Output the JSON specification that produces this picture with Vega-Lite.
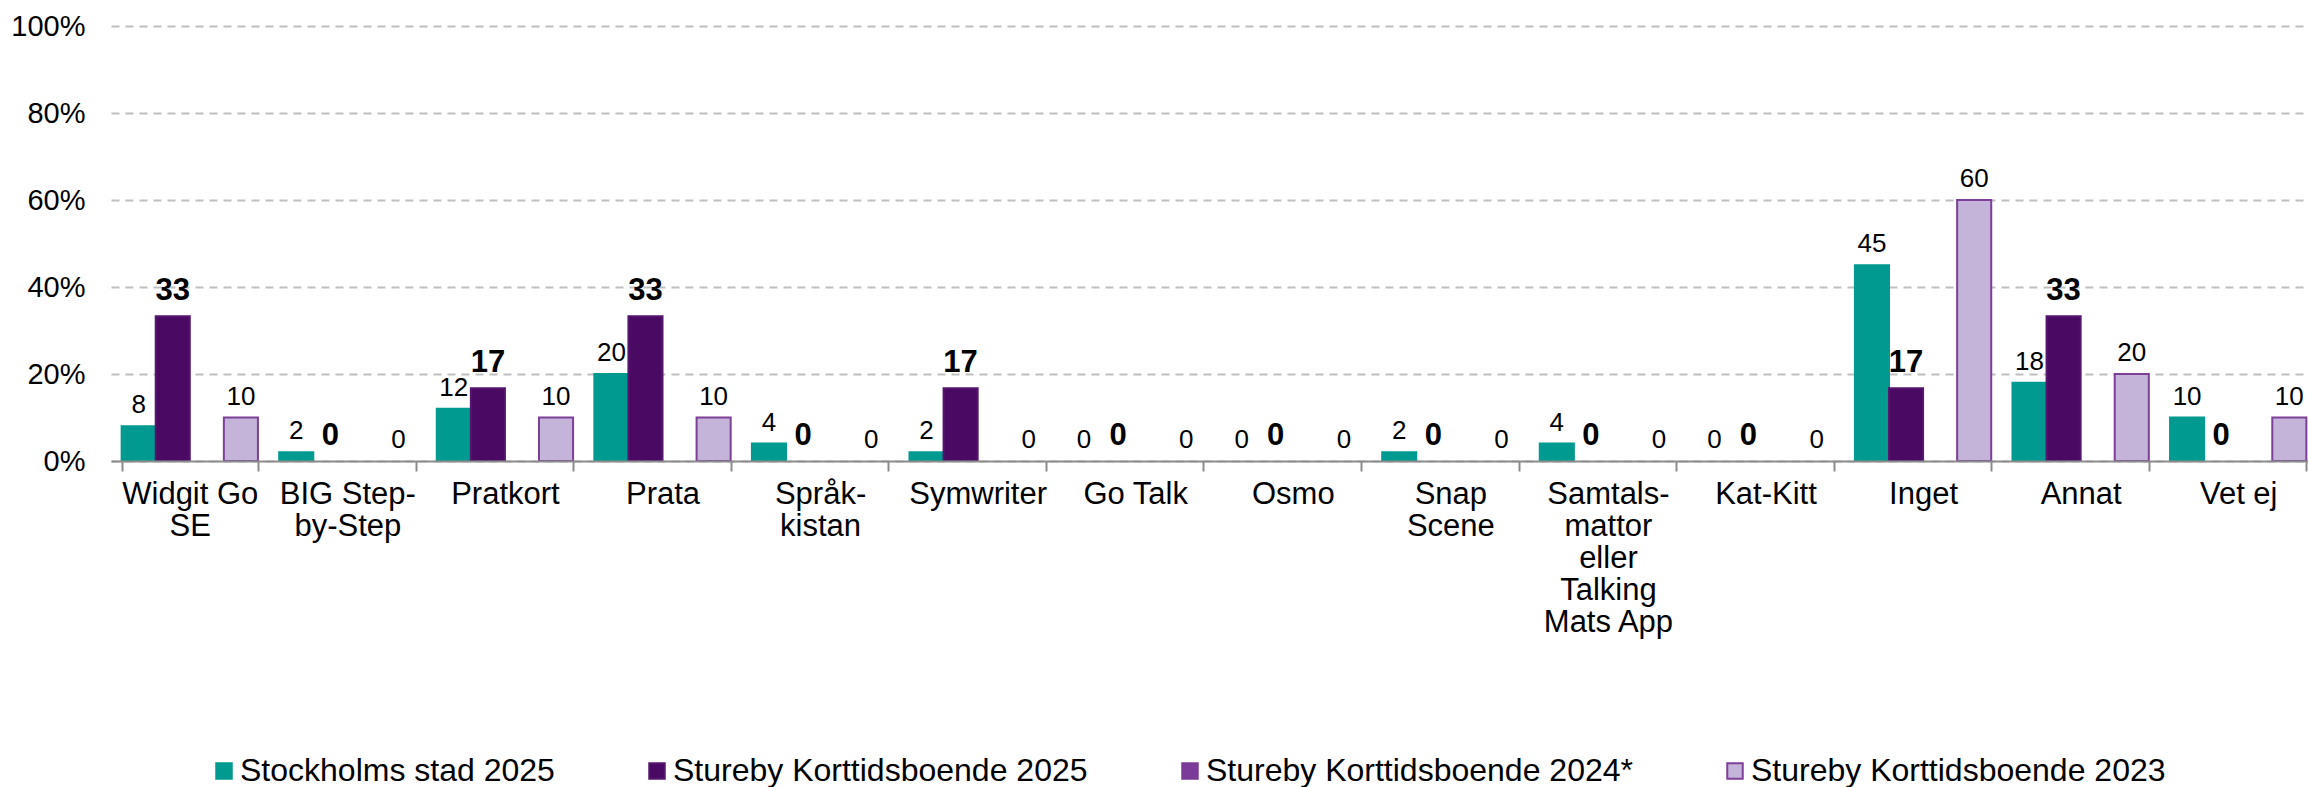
{
  "$schema": "https://vega.github.io/schema/vega-lite/v6.json",
  "autosize": {"type": "none"},
  "width": 2197,
  "height": 435,
  "padding": {"left": 111, "top": 26, "right": 0, "bottom": 326},
  "background": "white",
  "config": {
    "font": "Liberation Sans",
    "view": {"stroke": null}
  },
  "data": {
    "values": [
      {"cat": "Widgit Go|SE", "series": "Stockholms stad 2025", "value": 8},
      {"cat": "BIG Step-|by-Step", "series": "Stockholms stad 2025", "value": 2},
      {"cat": "Pratkort", "series": "Stockholms stad 2025", "value": 12},
      {"cat": "Prata", "series": "Stockholms stad 2025", "value": 20},
      {"cat": "Språk-|kistan", "series": "Stockholms stad 2025", "value": 4},
      {"cat": "Symwriter", "series": "Stockholms stad 2025", "value": 2},
      {"cat": "Go Talk", "series": "Stockholms stad 2025", "value": 0},
      {"cat": "Osmo", "series": "Stockholms stad 2025", "value": 0},
      {"cat": "Snap|Scene", "series": "Stockholms stad 2025", "value": 2},
      {"cat": "Samtals-|mattor|eller|Talking|Mats App", "series": "Stockholms stad 2025", "value": 4},
      {"cat": "Kat-Kitt", "series": "Stockholms stad 2025", "value": 0},
      {"cat": "Inget", "series": "Stockholms stad 2025", "value": 45},
      {"cat": "Annat", "series": "Stockholms stad 2025", "value": 18},
      {"cat": "Vet ej", "series": "Stockholms stad 2025", "value": 10},
      {"cat": "Widgit Go|SE", "series": "Stureby Korttidsboende 2025", "value": 33.3},
      {"cat": "BIG Step-|by-Step", "series": "Stureby Korttidsboende 2025", "value": 0},
      {"cat": "Pratkort", "series": "Stureby Korttidsboende 2025", "value": 16.7},
      {"cat": "Prata", "series": "Stureby Korttidsboende 2025", "value": 33.3},
      {"cat": "Språk-|kistan", "series": "Stureby Korttidsboende 2025", "value": 0},
      {"cat": "Symwriter", "series": "Stureby Korttidsboende 2025", "value": 16.7},
      {"cat": "Go Talk", "series": "Stureby Korttidsboende 2025", "value": 0},
      {"cat": "Osmo", "series": "Stureby Korttidsboende 2025", "value": 0},
      {"cat": "Snap|Scene", "series": "Stureby Korttidsboende 2025", "value": 0},
      {"cat": "Samtals-|mattor|eller|Talking|Mats App", "series": "Stureby Korttidsboende 2025", "value": 0},
      {"cat": "Kat-Kitt", "series": "Stureby Korttidsboende 2025", "value": 0},
      {"cat": "Inget", "series": "Stureby Korttidsboende 2025", "value": 16.7},
      {"cat": "Annat", "series": "Stureby Korttidsboende 2025", "value": 33.3},
      {"cat": "Vet ej", "series": "Stureby Korttidsboende 2025", "value": 0},
      {"cat": "Widgit Go|SE", "series": "Stureby Korttidsboende 2023", "value": 10},
      {"cat": "BIG Step-|by-Step", "series": "Stureby Korttidsboende 2023", "value": 0},
      {"cat": "Pratkort", "series": "Stureby Korttidsboende 2023", "value": 10},
      {"cat": "Prata", "series": "Stureby Korttidsboende 2023", "value": 10},
      {"cat": "Språk-|kistan", "series": "Stureby Korttidsboende 2023", "value": 0},
      {"cat": "Symwriter", "series": "Stureby Korttidsboende 2023", "value": 0},
      {"cat": "Go Talk", "series": "Stureby Korttidsboende 2023", "value": 0},
      {"cat": "Osmo", "series": "Stureby Korttidsboende 2023", "value": 0},
      {"cat": "Snap|Scene", "series": "Stureby Korttidsboende 2023", "value": 0},
      {"cat": "Samtals-|mattor|eller|Talking|Mats App", "series": "Stureby Korttidsboende 2023", "value": 0},
      {"cat": "Kat-Kitt", "series": "Stureby Korttidsboende 2023", "value": 0},
      {"cat": "Inget", "series": "Stureby Korttidsboende 2023", "value": 60},
      {"cat": "Annat", "series": "Stureby Korttidsboende 2023", "value": 20},
      {"cat": "Vet ej", "series": "Stureby Korttidsboende 2023", "value": 10}
    ]
  },
  "encoding": {
    "x": {
      "field": "cat",
      "type": "nominal",
      "sort": ["Widgit Go|SE", "BIG Step-|by-Step", "Pratkort", "Prata", "Språk-|kistan", "Symwriter", "Go Talk", "Osmo", "Snap|Scene", "Samtals-|mattor|eller|Talking|Mats App", "Kat-Kitt", "Inget", "Annat", "Vet ej"],
      "scale": {"range": [0, 2206], "paddingInner": 0.135, "paddingOuter": 0.0675},
      "axis": {
        "title": null,
        "labelExpr": "split(datum.label, '|')",
        "labelAngle": 0,
        "labelFontSize": 31,
        "labelLineHeight": 32,
        "labelColor": "#000000",
        "labelPadding": 8,
        "labelBaseline": "top",
        "labelOverlap": false,
        "labelLimit": 0,
        "tickBand": "extent",
        "ticks": true,
        "tickSize": 10,
        "tickColor": "#8c8c8c",
        "tickWidth": 2,
        "domainColor": "#8c8c8c",
        "domainWidth": 2,
        "grid": false,
        "zindex": 1
      }
    },
    "xOffset": {
      "field": "series",
      "type": "nominal",
      "scale": {
        "domain": ["Stockholms stad 2025", "Stureby Korttidsboende 2025", "Stureby Korttidsboende 2024*", "Stureby Korttidsboende 2023"],
        "paddingInner": 0,
        "paddingOuter": 0
      }
    },
    "y": {
      "field": "value",
      "type": "quantitative",
      "scale": {"domain": [0, 100], "nice": false, "zero": true},
      "axis": {
        "title": null,
        "values": [0, 20, 40, 60, 80, 100],
        "labelExpr": "datum.value + '%'",
        "labelFontSize": 29,
        "labelColor": "#000000",
        "labelPadding": 26,
        "ticks": false,
        "tickSize": 0,
        "domain": false,
        "grid": true,
        "gridColor": "#bfbfbf",
        "gridWidth": 2,
        "gridDash": [8, 6]
      }
    }
  },
  "layer": [
    {
      "transform": [{"filter": "datum.value > 0"}],
      "mark": {"type": "bar", "strokeWidth": 2},
      "encoding": {
        "color": {
          "field": "series",
          "type": "nominal",
          "scale": {
            "domain": ["Stockholms stad 2025", "Stureby Korttidsboende 2025", "Stureby Korttidsboende 2024*", "Stureby Korttidsboende 2023"],
            "range": ["#009a90", "#4a0a64", "#7b3b98", "#c4b4d9"]
          },
          "legend": {
            "title": null,
            "orient": "none",
            "legendX": 97,
            "legendY": 729,
            "direction": "horizontal",
            "gridAlign": "none",
            "symbolType": "square",
            "symbolSize": 240,
            "symbolStrokeWidth": 2,
            "labelFontSize": 32,
            "labelColor": "#000000",
            "labelOffset": 0,
            "columnPadding": 86,
            "padding": 0,
            "labelLimit": 0
          }
        },
        "stroke": {
          "field": "series",
          "type": "nominal",
          "scale": {
            "domain": ["Stockholms stad 2025", "Stureby Korttidsboende 2025", "Stureby Korttidsboende 2024*", "Stureby Korttidsboende 2023"],
            "range": ["#009a90", "#55166e", "#7b3b98", "#7e3f98"]
          },
          "legend": {
            "title": null,
            "orient": "none",
            "legendX": 97,
            "legendY": 729,
            "direction": "horizontal",
            "gridAlign": "none",
            "symbolType": "square",
            "symbolSize": 240,
            "symbolStrokeWidth": 2,
            "labelFontSize": 32,
            "labelColor": "#000000",
            "labelOffset": 0,
            "columnPadding": 86,
            "padding": 0,
            "labelLimit": 0
          }
        }
      }
    },
    {
      "transform": [{"filter": "datum.series !== 'Stureby Korttidsboende 2025'"}],
      "mark": {"type": "text", "fontSize": 26, "baseline": "alphabetic", "dy": -13, "color": "#000000"},
      "encoding": {
        "text": {"field": "value", "type": "quantitative", "format": ".0f"}
      }
    },
    {
      "transform": [{"filter": "datum.series === 'Stureby Korttidsboende 2025'"}],
      "mark": {"type": "text", "fontSize": 31, "fontWeight": "bold", "baseline": "alphabetic", "dy": -16, "color": "#000000"},
      "encoding": {
        "text": {"field": "value", "type": "quantitative", "format": ".0f"}
      }
    }
  ]
}
